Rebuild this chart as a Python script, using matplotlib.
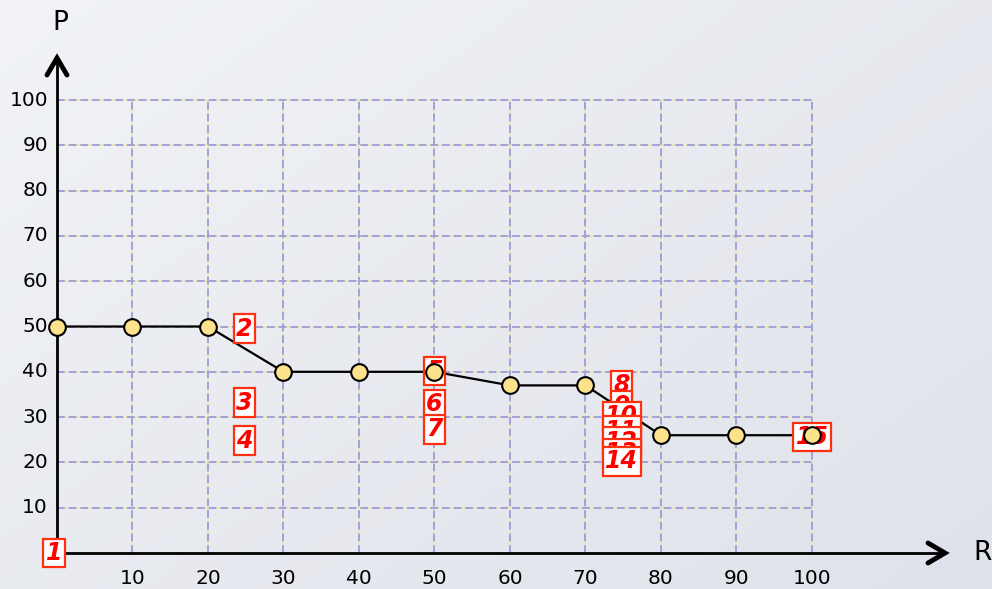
import numpy as np
import matplotlib
matplotlib.use("Agg")
import matplotlib.pyplot as plt

# points of the polyline
r_vals = [0, 10, 20, 30, 40, 50, 60, 70, 80, 90, 100]
p_vals = [50, 50, 50, 40, 40, 40, 37, 37, 26, 26, 26]

# numbered boxes
box_text = ["1", "2", "3", "4", "5", "6", "7", "8", "9", "10", "11", "12", "13", "14", "15"]
box_x = [-0.4, 24.8, 24.8, 24.8, 50, 50, 50, 74.8, 74.8, 74.8, 74.8, 74.8, 74.8, 74.8, 100]
box_y = [0, 49.5, 33.2, 24.8, 40.2, 32.8, 27.3, 37, 32.5, 30.2, 27, 24.6, 22, 20.2, 25.6]

x_ticks = [10, 20, 30, 40, 50, 60, 70, 80, 90, 100]
y_ticks = [10, 20, 30, 40, 50, 60, 70, 80, 90, 100]

W, H = 992, 589
x0px, x100px = 57, 812
y0px, y100px = 553, 100
sx = (x100px - x0px) / 100.0
sy = (y0px - y100px) / 100.0

fig = plt.figure(figsize=(W / 100, H / 100), dpi=100)

# background gradient
bg = fig.add_axes([0, 0, 1, 1])
gx, gy = np.meshgrid(np.linspace(0, 1, 200), np.linspace(0, 1, 200))
g = 0.55 * gx + 0.45 * gy
c1 = np.array([0.945, 0.953, 0.965])
c2 = np.array([0.875, 0.886, 0.918])
img = c1[None, None, :] * (1 - g[..., None]) + c2[None, None, :] * g[..., None]
bg.imshow(img, aspect="auto", extent=[0, 1, 0, 1], origin="upper")
bg.axis("off")

ax = fig.add_axes([0, 0, 1, 1])
ax.set_xlim(-x0px / sx, (W - x0px) / sx)
ax.set_ylim(-(H - y0px) / sy, y0px / sy)
ax.axis("off")
ax.patch.set_alpha(0)

# grid
for v in x_ticks:
    ax.plot([v, v], [0, 100], color="#efe6bd", lw=1.4, zorder=1)
    ax.plot([v, v], [0, 100], color="#a2a2d6", lw=1.4, ls=(0, (4, 2)), zorder=1.1)
for v in y_ticks:
    ax.plot([0, 100], [v, v], color="#efe6bd", lw=1.4, zorder=1)
    ax.plot([0, 100], [v, v], color="#a2a2d6", lw=1.4, ls=(0, (4, 2)), zorder=1.1)

# axes with chevrons
x_end = (945 - x0px) / sx
y_end = (y0px - 58) / sy
ax.plot([0, x_end], [0, 0], color="black", lw=2, zorder=2)
ax.plot([0, 0], [0, y_end], color="black", lw=2, zorder=2)
ax.plot([x_end - 17 / sx, x_end, x_end - 17 / sx], [10 / sy, 0, -10 / sy],
        color="black", lw=3.5, solid_capstyle="round", solid_joinstyle="miter", zorder=2)
ax.plot([-10 / sx, 0, 10 / sx], [y_end - 17 / sy, y_end, y_end - 17 / sy],
        color="black", lw=3.5, solid_capstyle="round", solid_joinstyle="miter", zorder=2)

ax.text(x_end + 38 / sx, 0, "R", fontsize=19, ha="center", va="center")
ax.text(3 / sx, y_end + 35 / sy, "P", fontsize=19, ha="center", va="center")

for v in x_ticks:
    ax.text(v, -25 / sy, str(v), fontsize=14.5, ha="center", va="center")
for v in y_ticks:
    ax.text(-9 / sx, v, str(v), fontsize=14.5, ha="right", va="center")

# polyline
ax.plot(r_vals, p_vals, color="black", lw=1.6, zorder=3)

for t, bx, by in zip(box_text, box_x, box_y):
    ax.text(bx, by, t, fontsize=17, fontweight="bold", fontstyle="italic", color="#ff0000",
            ha="center", va="center", zorder=4,
            bbox=dict(boxstyle="square,pad=0.1", fc="white", ec="#ff3010", lw=1.6))

ax.plot(r_vals, p_vals, ls="none", marker="o", ms=12, mfc="#fde28c", mec="black",
        mew=1.5, zorder=5)

fig.savefig("out.png", dpi=100)
